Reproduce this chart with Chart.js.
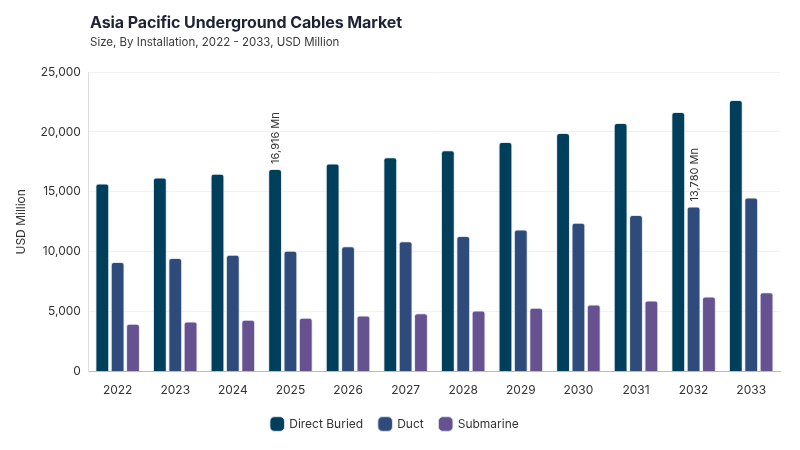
<!DOCTYPE html>
<html><head><meta charset="utf-8">
<script src="https://cdn.jsdelivr.net/npm/chart.js@4/dist/chart.umd.min.js"></script>
<style>
html,body{margin:0;padding:0;background:#fff;}
#wrap{position:relative;width:800px;height:450px;font-family:Inter, "DejaVu Sans", sans-serif;}
#title{position:absolute;left:90px;top:12px;font-size:16px;font-weight:700;color:#1f2235;letter-spacing:-0.1px;}
#sub{position:absolute;left:90px;top:35px;font-size:11.5px;color:#3a3a3a;}
canvas{position:absolute;left:0;top:0;}
</style></head>
<body><div id="wrap">
<canvas id="c" width="800" height="450"></canvas>
<div id="title">Asia Pacific Underground Cables Market</div>
<div id="sub">Size, By Installation, 2022 - 2033, USD Million</div>
</div>
<script>
const categories = ["2022","2023","2024","2025","2026","2027","2028","2029","2030","2031","2032","2033"];
const directBuried = [15700,16190,16500,16916,17370,17890,18480,19150,19900,20740,21660,22660];
const duct = [9140,9470,9760,10090,10450,10870,11310,11850,12430,13070,13780,14520];
const submarine = [4000,4180,4320,4490,4680,4870,5100,5330,5600,5940,6270,6630];
const seriesNames = ["Direct Buried","Duct","Submarine"];
const seriesColors = ["#003f5c","#2f4b7c","#665191"];
const annotations = [{series:0,index:3,text:"16,916 Mn"},{series:1,index:10,text:"13,780 Mn"}];

const annotPlugin = {
  id:'annot',
  afterDatasetsDraw(chart){
    const ctx = chart.ctx;
    annotations.forEach(a=>{
      const el = chart.getDatasetMeta(a.series).data[a.index];
      ctx.save();
      ctx.translate(el.x+1, el.y-5);
      ctx.rotate(-Math.PI/2);
      ctx.font = '11px Inter, "DejaVu Sans", sans-serif';
      ctx.fillStyle = '#333';
      ctx.textAlign = 'left';
      ctx.textBaseline = 'middle';
      ctx.fillText(a.text,0,0);
      ctx.restore();
    });
  }
};

const data = [directBuried,duct,submarine];
new Chart(document.getElementById('c'),{
  type:'bar',
  data:{
    labels:categories,
    datasets:data.map((d,i)=>({
      label:seriesNames[i],
      data:d,
      backgroundColor:seriesColors[i],
      borderColor:'rgba(220,228,240,0.9)',
      borderWidth:1,
      borderRadius:3,
      borderSkipped:'bottom',
      categoryPercentage:0.8,
      barPercentage:0.9
    }))
  },
  options:{
    responsive:false,
    animation:false,
    devicePixelRatio:1,
    layout:{padding:{top:72,left:10,right:20,bottom:10}},
    plugins:{
      legend:{
        position:'bottom',
        labels:{
          usePointStyle:true,
          pointStyle:'rectRounded',
          boxWidth:14,boxHeight:14,
          padding:16,
          color:'#333',
          font:{family:'Inter, "DejaVu Sans", sans-serif',size:12}
        }
      },
      tooltip:{enabled:false}
    },
    scales:{
      x:{
        grid:{display:false},
        border:{color:'#bbb'},
        ticks:{color:'#333',font:{family:'Inter, "DejaVu Sans", sans-serif',size:12},padding:4}
      },
      y:{
        min:0,max:25000,
        ticks:{stepSize:5000,color:'#333',padding:8,font:{family:'Inter, "DejaVu Sans", sans-serif',size:12},
          callback:v=>v.toLocaleString('en-US')},
        grid:{color:'#f1f1f1',drawTicks:false},
        border:{color:'#ddd'},
        title:{display:true,text:'USD Million',color:'#333',font:{family:'Inter, "DejaVu Sans", sans-serif',size:12}}
      }
    }
  },
  plugins:[annotPlugin]
});
</script>
</body></html>
